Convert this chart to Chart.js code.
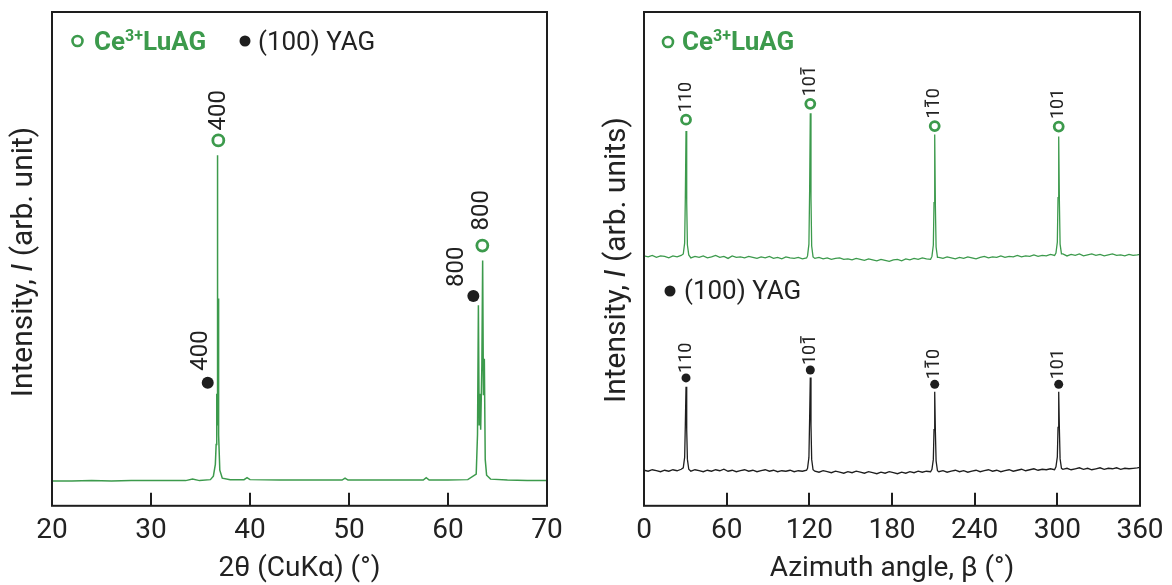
<!DOCTYPE html>
<html>
<head>
<meta charset="utf-8">
<script src="https://cdn.jsdelivr.net/npm/chart.js@4"></script>
<style>
  body { margin: 0; background: #fff; }
  .panel { position: absolute; top: 0; width: 586px; height: 585px; }
  #left { left: 0; }
  #right { left: 586px; }
</style>
</head>
<body>
<div class="panel" id="left"><canvas id="graficoXrd" width="586" height="585"></canvas></div>
<div class="panel" id="right"><canvas id="graficoPhi" width="586" height="585"></canvas></div>
<script>
// ---- datos: barrido 2theta ----
const xrdTicks = [20, 30, 40, 50, 60, 70];
const xrdTheta = [20, 22, 24, 26, 28, 30, 32, 33.5, 34.2, 34.9,
    36.0, 36.3, 36.5, 36.58, 36.64, 36.68, 36.7, 36.72, 36.75, 36.78,
    36.83, 36.95, 37.2, 38, 39.4, 39.7, 40, 43, 46, 49.3,
    49.6, 49.9, 52, 55, 57.5, 57.8, 58.1, 60, 62.0, 62.85,
    62.98, 63.07, 63.15, 63.23, 63.3, 63.42, 63.5, 63.58, 63.67, 63.76,
    63.9, 64.3, 66, 68, 70];
const xrdIntensity = [4.6, 4.6, 4.7, 4.6, 4.7, 4.7, 4.7, 4.7, 5.0, 4.7,
    4.9, 5.6, 8, 12, 22.3, 16, 35, 70.6, 38, 41.6,
    14, 6.8, 5.2, 4.9, 4.9, 5.3, 4.9, 4.8, 4.8, 4.8,
    5.2, 4.8, 4.8, 4.8, 4.8, 5.3, 4.8, 4.8, 4.9, 6.0,
    14, 40.2, 16, 22.3, 15, 28, 49.3, 22, 29.4, 9,
    5.8, 5.0, 4.8, 4.7, 4.7];
const xrdLuagPeakX = [36.8, 63.47];
const xrdLuagPeakY = [73.6, 52.3];
const xrdYagPeakX = [35.73, 62.56];
const xrdYagPeakY = [24.5, 42.1];
const xrdLuagHkl = ['400', '800'];
const xrdYagHkl = ['400', '800'];

// ---- datos: barrido phi ----
const phiTicks = [0, 60, 120, 180, 240, 300, 360];
const phiAngle = [
    0, 3, 6, 9, 12, 15, 18, 21, 24, 27,
    28.5, 29.5, 30.0, 30.5, 31.0, 31.5, 32.5,
    34, 37, 40, 43, 46, 49, 52, 55, 58, 61, 64, 67, 70, 73, 76, 79, 82, 85, 88, 91, 94, 97, 100, 103, 106, 109, 112, 115, 118,
    118.7, 119.7, 120.2, 120.7, 121.2, 121.7, 122.7,
    124, 127, 130, 133, 136, 139, 142, 145, 148, 151, 154, 157, 160, 163, 166, 169, 172, 175, 178, 181, 184, 187, 190, 193, 196, 199, 202, 205, 208,
    209, 210, 210.5, 211, 211.5, 212, 213,
    214, 217, 220, 223, 226, 229, 232, 235, 238, 241, 244, 247, 250, 253, 256, 259, 262, 265, 268, 271, 274, 277, 280, 283, 286, 289, 292, 295, 298,
    299, 300, 300.5, 301, 301.5, 302, 303,
    304, 307, 310, 313, 316, 319, 322, 325, 328, 331, 334, 337, 340, 343, 346, 349, 352, 355, 358, 360];
const phiLuag = [
    50.2, 50.0, 50.3, 49.9, 50.2, 50.1, 49.8, 50.2, 50.0, 50.3,
    50.6, 52.8, 62, 75.5, 61, 52.4, 50.4,
    49.8, 50.1, 49.9, 50.2, 49.8, 50.0, 50.3, 49.9, 50.1, 49.7, 50.2, 49.9, 50.0, 49.8, 50.1, 49.9, 49.7, 50.0, 49.8, 50.1, 49.7, 49.9, 49.6, 50.0, 49.8, 49.7, 49.9, 49.6, 49.8,
    50.2, 52.6, 63, 79.1, 62, 52.2, 50.0,
    49.7, 49.9, 49.6, 49.8, 49.5, 49.7, 49.8, 49.5, 49.6, 49.4, 49.7, 49.5, 49.3, 49.6, 49.4, 49.2, 49.5, 49.3, 49.1, 49.4, 49.5, 49.2, 49.6, 49.4, 49.7, 49.5, 49.8, 49.6, 49.5,
    50.1, 52.4, 61, 74.8, 60, 52.0, 49.9,
    49.9, 49.7, 50.0, 49.8, 49.6, 49.9, 49.7, 50.0, 49.8, 49.6, 49.9, 50.1, 49.8, 50.0, 49.9, 50.2, 49.9, 50.1, 50.0, 50.3, 50.0, 50.2, 50.1, 50.4, 50.1, 50.3, 50.2, 50.5, 50.3,
    50.8, 53.0, 62, 74.4, 61, 52.6, 50.6,
    50.6, 50.2, 50.5, 50.3, 50.6, 50.2, 50.4, 50.6, 50.3, 50.5, 50.2, 50.4, 50.6, 50.3, 50.4, 50.2, 50.5, 50.3, 50.4, 50.5];
const phiYag = [
    6.8, 6.6, 6.9, 6.7, 6.5, 6.8, 6.6, 6.9, 6.7, 7.0,
    7.3, 9.4, 16, 23.7, 15, 9.0, 7.0,
    6.6, 6.9, 6.7, 6.5, 6.8, 6.6, 6.9, 6.7, 7.0, 6.6, 6.8, 6.5, 6.7, 6.9, 6.6, 6.8, 6.5, 6.7, 6.9, 6.6, 6.8, 6.5, 6.7, 6.6, 6.8, 6.5, 6.7, 6.6, 6.8,
    7.2, 9.4, 17, 25.6, 16, 9.0, 6.9,
    6.6, 6.4, 6.7, 6.5, 6.3, 6.6, 6.4, 6.2, 6.5, 6.3, 6.6, 6.4, 6.2, 6.5, 6.3, 6.1, 6.4, 6.2, 6.5, 6.3, 6.1, 6.4, 6.2, 6.5, 6.3, 6.6, 6.4, 6.6, 6.5,
    7.0, 9.0, 15, 22.7, 14.5, 8.7, 6.7,
    6.5, 6.7, 6.4, 6.6, 6.8, 6.5, 6.7, 6.4, 6.6, 6.8, 6.5, 6.7, 6.9, 6.6, 6.8, 6.5, 6.7, 6.9, 6.6, 6.8, 7.0, 6.7, 6.9, 7.1, 6.8, 7.0, 6.9, 7.1, 6.9,
    7.5, 9.5, 15.5, 22.7, 15, 9.1, 7.2,
    7.0, 7.2, 6.9, 7.1, 7.3, 7.0, 7.2, 6.9, 7.1, 7.3, 7.0, 7.2, 7.1, 7.3, 7.0, 7.2, 7.1, 7.2, 7.3, 7.4];
const phiPeakX = [30.5, 120.7, 211, 301];
const phiLuagMarkY = [77.8, 81.0, 76.5, 76.4];
const phiYagMarkY = [25.5, 27.1, 24.2, 24.2];
const phiHkl = ['110', '101', '110', '101'];
const phiHklBar = [[], [2], [1], []];   // digito con barra (indice negativo)

// ---- estilos ----
const verde = '#3c9a4c';
const negro = '#1e1e1e';
const texto = '#222';
const fuente = 'Roboto, "Liberation Sans", sans-serif';

const toXY = (xs, ys) => xs.map((x, i) => ({ x: x, y: ys[i] }));

function drawRuns(ctx, runs, x, y, align) {
    let total = 0;
    runs.forEach(r => { ctx.font = r.font; total += ctx.measureText(r.t).width; });
    let cx = align === 'center' ? x - total / 2 : x;
    runs.forEach(r => {
        ctx.font = r.font;
        ctx.fillStyle = r.color || texto;
        ctx.fillText(r.t, cx, y - (r.rise || 0));
        cx += ctx.measureText(r.t).width;
    });
}

const decor = {
    id: 'decor',
    afterDatasetsDraw(chart, args, o) {
        const ctx = chart.ctx, a = chart.chartArea;
        const xs = chart.scales.x, ys = chart.scales.y;
        ctx.save();
        ctx.strokeStyle = negro;
        ctx.lineWidth = 2;
        o.ticks.slice(1, -1).forEach(v => {
            const px = Math.round(xs.getPixelForValue(v));
            ctx.beginPath();
            ctx.moveTo(px, a.bottom);
            ctx.lineTo(px, a.bottom - 13);
            ctx.stroke();
        });
        ctx.strokeRect(a.left, a.top, a.right - a.left, a.bottom - a.top);

        // etiquetas hkl
        o.hkl.forEach(g => {
            g.x.forEach((xv, i) => {
                const off = g.off[i] || [0, 0];
                const px = xs.getPixelForValue(xv) + off[0];
                const py = ys.getPixelForValue(g.y[i]) - g.gap + off[1];
                const t = g.text[i];
                ctx.save();
                ctx.translate(px, py);
                ctx.rotate(-Math.PI / 2);
                ctx.font = g.size + 'px ' + fuente;
                ctx.fillStyle = texto;
                ctx.textBaseline = 'middle';
                ctx.textAlign = 'left';
                ctx.fillText(t, 0, 0);
                (g.bars ? g.bars[i] : []).forEach(k => {
                    const x0 = ctx.measureText(t.slice(0, k)).width;
                    const w = ctx.measureText(t[k]).width;
                    ctx.fillRect(x0 + w * 0.15, -g.size * 0.37 - 3.5, w * 0.7, 1.4);
                });
                ctx.restore();
            });
        });

        // leyendas
        ctx.textBaseline = 'alphabetic';
        o.legend.forEach(l => {
            ctx.beginPath();
            ctx.arc(l.mx, l.my, l.r, 0, Math.PI * 2);
            if (l.hollow) {
                ctx.fillStyle = '#fff'; ctx.fill();
                ctx.strokeStyle = l.color; ctx.lineWidth = 2.6; ctx.stroke();
            } else {
                ctx.fillStyle = l.color; ctx.fill();
            }
            drawRuns(ctx, l.runs, l.tx, l.ty, 'left');
        });

        // titulo eje y
        ctx.save();
        ctx.translate(o.yTitle.x, o.yTitle.y);
        ctx.rotate(-Math.PI / 2);
        ctx.textBaseline = 'middle';
        drawRuns(ctx, o.yTitle.runs, 0, 0, 'center');
        ctx.restore();
        ctx.restore();
    }
};

const axisFont = { family: fuente, size: 28 };
const titleFont = { family: fuente, size: 28, lineHeight: 0.95 };
const boldLeg = 'bold 26px ' + fuente;
const lumLegend = (mx, my, tx, ty) => ({
    mx: mx, my: my, r: 5, hollow: true, color: verde, tx: tx, ty: ty,
    runs: [
        { t: 'Ce', font: boldLeg, color: verde },
        { t: '3+', font: 'bold 16px ' + fuente, color: verde, rise: 9 },
        { t: 'LuAG', font: boldLeg, color: verde }
    ]
});
const yagLegend = (mx, my, tx, ty) => ({
    mx: mx, my: my, r: 5.5, hollow: false, color: negro, tx: tx, ty: ty,
    runs: [{ t: '(100) YAG', font: '26px ' + fuente, color: texto }]
});
const yTitleRuns = (txt) => [
    { t: 'Intensity, ', font: '30px ' + fuente },
    { t: 'I', font: 'italic 30px ' + fuente },
    { t: txt, font: '30px ' + fuente }
];

function xScale(min, max, ticks, title) {
    return {
        type: 'linear', min: min, max: max,
        afterBuildTicks: s => { s.ticks = ticks.map(v => ({ value: v })); },
        grid: { display: false, drawTicks: false },
        border: { display: false },
        ticks: { font: axisFont, color: texto, padding: 8, maxRotation: 0, autoSkip: false },
        title: { display: true, text: title, font: titleFont, color: texto, padding: { top: 0, bottom: 2 } }
    };
}
const yScale = { display: false, min: -0.4, max: 99.6 };

// Gráfico 2theta
new Chart(document.getElementById('graficoXrd').getContext('2d'), {
    type: 'line',
    data: {
        datasets: [{
            data: toXY(xrdTheta, xrdIntensity),
            borderColor: verde, borderWidth: 1.5, pointRadius: 0, tension: 0
        }, {
            data: toXY(xrdLuagPeakX, xrdLuagPeakY),
            showLine: false, pointRadius: 5.5, pointBorderWidth: 2.8,
            pointBackgroundColor: '#fff', pointBorderColor: verde
        }, {
            data: toXY(xrdYagPeakX, xrdYagPeakY),
            showLine: false, pointRadius: 6, pointBorderWidth: 0,
            pointBackgroundColor: negro, pointBorderColor: negro
        }]
    },
    options: {
        responsive: false, animation: false,
        layout: { padding: { left: 52, right: 39, top: 12, bottom: 1 } },
        scales: { x: xScale(20, 70, xrdTicks, '2θ (CuKα) (°)'), y: yScale },
        plugins: {
            legend: { display: false }, tooltip: { enabled: false },
            decor: {
                ticks: xrdTicks,
                hkl: [
                    { x: xrdLuagPeakX, y: xrdLuagPeakY, text: xrdLuagHkl, size: 24, gap: 10, off: [[1, 0], [0, -5]] },
                    { x: xrdYagPeakX, y: xrdYagPeakY, text: xrdYagHkl, size: 24, gap: 12, off: [[-7, 0], [-16, 3]] }
                ],
                legend: [lumLegend(77.5, 41, 94, 50), yagLegend(245, 41, 258, 50)],
                yTitle: { x: 24, y: 262, runs: yTitleRuns(' (arb. unit)') }
            }
        }
    },
    plugins: [decor]
});

// Gráfico phi
new Chart(document.getElementById('graficoPhi').getContext('2d'), {
    type: 'line',
    data: {
        datasets: [{
            data: toXY(phiAngle, phiLuag),
            borderColor: verde, borderWidth: 1.3, pointRadius: 0, tension: 0
        }, {
            data: toXY(phiAngle, phiYag),
            borderColor: negro, borderWidth: 1.3, pointRadius: 0, tension: 0
        }, {
            data: toXY(phiPeakX, phiLuagMarkY),
            showLine: false, pointRadius: 4.5, pointBorderWidth: 2.8,
            pointBackgroundColor: '#fff', pointBorderColor: verde
        }, {
            data: toXY(phiPeakX, phiYagMarkY),
            showLine: false, pointRadius: 4.5, pointBorderWidth: 0,
            pointBackgroundColor: negro, pointBorderColor: negro
        }]
    },
    options: {
        responsive: false, animation: false,
        layout: { padding: { left: 58, right: 32, top: 12, bottom: 1 } },
        scales: { x: xScale(0, 360, phiTicks, 'Azimuth angle, β (°)'), y: yScale },
        plugins: {
            legend: { display: false }, tooltip: { enabled: false },
            decor: {
                ticks: phiTicks,
                hkl: [
                    { x: phiPeakX, y: phiLuagMarkY, text: phiHkl, bars: phiHklBar, size: 18, gap: 7.5, off: [] },
                    { x: phiPeakX, y: phiYagMarkY, text: phiHkl, bars: phiHklBar, size: 18, gap: 5, off: [] }
                ],
                legend: [lumLegend(82, 42, 96, 50), yagLegend(84, 291, 98, 299)],
                yTitle: { x: 31, y: 260, runs: yTitleRuns(' (arb. units)') }
            }
        }
    },
    plugins: [decor]
});
</script>
</body>
</html>
